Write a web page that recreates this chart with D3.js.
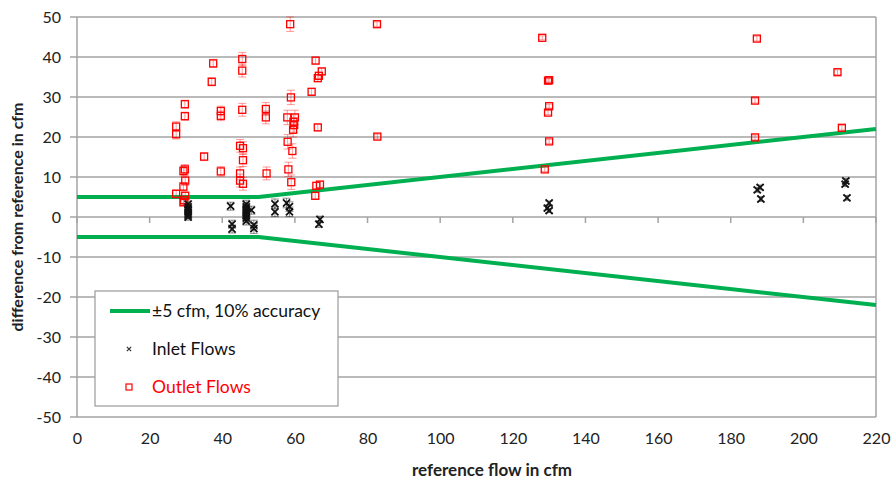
<!DOCTYPE html>
<html>
<head>
<meta charset="utf-8">
<script src="https://cdn.jsdelivr.net/npm/d3@7"></script>
<style>
  body { margin: 0; background: #fff; }
  svg { display: block; font-family: Lato, "Open Sans", sans-serif; }
</style>
</head>
<body>
<svg id="chart" width="892" height="483"></svg>
<script>
// accuracy band: +-5 cfm below 50 cfm, +-10% above
const accFlow  = [0, 50, 220];
const accUpper = [5, 5, 22];
const accLower = [-5, -5, -22];

// outlet flows (red squares)
const outletFlow = [27.3, 27.3, 27.3, 29.7, 29.7, 29.7, 29.3, 29.8, 29.3, 29.8, 29.5, 29.3,
  35.0, 37.5, 37.1, 39.6, 39.6, 39.6, 45.5, 45.5, 45.5, 44.9, 45.7, 45.7, 44.9, 44.9, 45.7,
  52.0, 52.0, 52.2, 58.7, 58.9, 57.9, 60.0, 59.6, 59.8, 59.5, 58.0, 59.3, 58.2, 59.0,
  64.6, 65.7, 67.4, 66.6, 66.3, 66.3, 65.9, 66.9, 65.6, 82.6, 82.7,
  128.1, 129.7, 130.0, 130.0, 129.7, 130.0, 128.8, 187.2, 186.7, 186.7, 209.4, 210.6];
const outletDiff = [22.6, 20.7, 5.8, 28.2, 25.2, 11.9, 11.5, 9.1, 7.6, 5.3, 4.2, 3.7,
  15.1, 38.4, 33.8, 26.5, 25.3, 11.4, 39.5, 36.6, 26.8, 17.8, 17.2, 14.2, 10.9, 9.1, 8.3,
  27.0, 24.9, 10.9, 48.2, 29.9, 24.9, 24.9, 23.8, 23.0, 21.8, 18.8, 16.5, 11.9, 8.7,
  31.3, 39.1, 36.4, 35.3, 34.7, 22.4, 7.8, 8.1, 5.3, 48.2, 20.1,
  44.8, 34.1, 34.2, 27.7, 26.1, 18.9, 11.9, 44.6, 29.1, 19.9, 36.2, 22.3];
const outletErr = [1.2, 1.2, 1.0, 1.0, 1.0, 1.2, 1.2, 1.2, 1.0, 1.0, 1.0, 1.0,
  1.0, 1.0, 1.0, 1.2, 1.2, 1.2, 1.6, 1.6, 1.6, 1.6, 1.6, 1.6, 1.6, 1.6, 1.6,
  1.6, 1.6, 1.6, 1.8, 1.8, 1.8, 1.8, 1.8, 1.8, 1.8, 1.8, 1.8, 1.8, 1.8,
  0.8, 0.8, 0.8, 0.8, 0.8, 0.8, 0.8, 0.8, 0.8, 0.6, 0.6,
  0.5, 0.5, 0.5, 0.5, 0.5, 0.5, 0.5, 0.6, 0.6, 0.6, 0.6, 0.6];

// inlet flows (black crosses)
const inletFlow = [30.6, 30.6, 30.6, 30.6, 30.6, 30.6, 30.6, 42.3, 42.7, 42.7,
  46.6, 46.6, 46.6, 46.6, 46.6, 46.6, 46.6, 46.6, 48.0, 48.7, 48.7,
  54.5, 54.5, 57.7, 58.5, 58.5, 66.9, 66.6,
  130.0, 129.5, 130.0, 188.1, 187.3, 188.3, 211.7, 211.5, 212.0];
const inletDiff = [3.2, 2.5, 2.0, 1.5, 1.0, 0.5, 0.0, 2.7, -1.8, -3.0,
  3.2, 2.5, 2.0, 1.5, 1.0, 0.3, -0.3, -1.0, 1.7, -2.0, -2.9,
  3.3, 1.3, 3.5, 2.6, 1.3, -0.6, -1.8,
  3.5, 2.2, 1.6, 7.4, 6.8, 4.5, 9.0, 8.2, 4.8];
const inletErr = [0.8, 0.8, 0.8, 0.8, 0.8, 0.8, 0.8, 1.0, 1.0, 1.0,
  1.0, 1.0, 1.0, 1.0, 1.0, 1.0, 1.0, 1.0, 1.0, 1.2, 1.2,
  1.2, 1.2, 1.2, 1.2, 1.2, 0.8, 0.8,
  0.5, 0.5, 0.5, 0.6, 0.6, 0.6, 0.6, 0.6, 0.6];

const xTicks = d3.range(0, 221, 20);
const yTicks = d3.range(-50, 51, 10);

const svg = d3.select("#chart");
const x = d3.scaleLinear().domain([0, 220]).range([77, 876]);
const y = d3.scaleLinear().domain([-50, 50]).range([417, 17]);

// gridlines (extend left as tick marks)
svg.append("g").selectAll("line")
  .data(yTicks)
  .join("line")
  .attr("x1", 70).attr("x2", x(220))
  .attr("y1", d => y(d)).attr("y2", d => y(d))
  .attr("stroke", "#a3a3a3").attr("stroke-width", 1.5);

// plot frame: left axis, right border
svg.append("line").attr("x1", x(0)).attr("x2", x(0)).attr("y1", y(50)).attr("y2", y(-50))
  .attr("stroke", "#a3a3a3").attr("stroke-width", 1.5);
svg.append("line").attr("x1", x(220)).attr("x2", x(220)).attr("y1", y(50)).attr("y2", y(-50))
  .attr("stroke", "#a3a3a3").attr("stroke-width", 1.5);

// tick marks along y=0 axis
svg.append("g").selectAll("line")
  .data(xTicks)
  .join("line")
  .attr("x1", d => x(d)).attr("x2", d => x(d))
  .attr("y1", y(0)).attr("y2", y(0) + 6)
  .attr("stroke", "#a3a3a3").attr("stroke-width", 1.5);

// y tick labels (plain hyphen like the original)
const yAxis = svg.append("g")
  .attr("transform", `translate(${x(0) - 16},0)`)
  .call(d3.axisLeft(y).tickValues(yTicks).tickSize(0).tickPadding(0).tickFormat(d => String(d)));
yAxis.select(".domain").remove();
yAxis.selectAll("text").attr("font-size", 16).attr("fill", "#222").attr("font-family", "Lato");

// x tick labels (low position)
const xAxis = svg.append("g")
  .attr("transform", `translate(0,${y(-50) + 16})`)
  .call(d3.axisBottom(x).tickValues(xTicks).tickSize(0).tickPadding(0));
xAxis.select(".domain").remove();
xAxis.selectAll("text").attr("font-size", 16).attr("fill", "#222").attr("font-family", "Lato");

// axis titles
svg.append("text")
  .attr("x", 492).attr("y", 476)
  .attr("text-anchor", "middle")
  .attr("font-size", 17).attr("font-weight", "bold").attr("fill", "#222")
  .text("reference flow in cfm");
svg.append("text")
  .attr("transform", `translate(23,${y(0)}) rotate(-90)`)
  .attr("text-anchor", "middle")
  .attr("font-size", 16).attr("font-weight", "bold").attr("fill", "#222")
  .text("difference from reference in cfm");

// accuracy lines
const line = d3.line().x(d => x(d[0])).y(d => y(d[1]));
[accUpper, accLower].forEach(vals => {
  svg.append("path")
    .datum(accFlow.map((f, i) => [f, vals[i]]))
    .attr("d", line)
    .attr("fill", "none")
    .attr("stroke", "#00b050")
    .attr("stroke-width", 4);
});

const outlet = outletFlow.map((f, i) => ({ f, d: outletDiff[i], e: outletErr[i] }));
const inlet = inletFlow.map((f, i) => ({ f, d: inletDiff[i], e: inletErr[i] }));

function errorBars(data, color) {
  const g = svg.append("g").attr("stroke", color).attr("stroke-width", 1);
  g.selectAll("line.v").data(data).join("line").attr("class", "v")
    .attr("x1", d => x(d.f)).attr("x2", d => x(d.f))
    .attr("y1", d => y(d.d + d.e)).attr("y2", d => y(d.d - d.e));
  [1, -1].forEach(s => {
    g.selectAll("line.c" + (s > 0 ? "t" : "b")).data(data).join("line")
      .attr("class", "c" + (s > 0 ? "t" : "b"))
      .attr("x1", d => x(d.f) - 4).attr("x2", d => x(d.f) + 4)
      .attr("y1", d => y(d.d + s * d.e)).attr("y2", d => y(d.d + s * d.e));
  });
}

errorBars(outlet, "rgba(255,0,0,0.4)");
errorBars(inlet, "rgba(0,0,0,0.45)");

// outlet markers
svg.append("g").selectAll("rect")
  .data(outlet)
  .join("rect")
  .attr("x", d => x(d.f) - 3.5).attr("y", d => y(d.d) - 3.5)
  .attr("width", 7).attr("height", 7)
  .attr("fill", "none").attr("stroke", "#ff0000").attr("stroke-width", 1.3);

// inlet markers
const cross = d3.symbol().type(d3.symbolX).size(34);
svg.append("g").selectAll("path")
  .data(inlet)
  .join("path")
  .attr("transform", d => `translate(${x(d.f)},${y(d.d)})`)
  .attr("d", cross)
  .attr("fill", "none").attr("stroke", "#111").attr("stroke-width", 1.8);

// legend
const lg = svg.append("g");
lg.append("rect")
  .attr("x", 95).attr("y", 291).attr("width", 243).attr("height", 115)
  .attr("fill", "#fff").attr("stroke", "#9a9a9a").attr("stroke-width", 1.2);
lg.append("line")
  .attr("x1", 110).attr("x2", 150).attr("y1", 311).attr("y2", 311)
  .attr("stroke", "#00b050").attr("stroke-width", 4);
lg.append("text").attr("x", 152).attr("y", 317)
  .attr("font-size", 17.5).attr("fill", "#111")
  .text("±5 cfm, 10% accuracy");
lg.append("path")
  .attr("transform", "translate(129,349)")
  .attr("d", d3.symbol().type(d3.symbolX).size(14))
  .attr("fill", "none").attr("stroke", "#333").attr("stroke-width", 1.2);
lg.append("text").attr("x", 152).attr("y", 355)
  .attr("font-size", 17.5).attr("fill", "#111")
  .text("Inlet Flows");
lg.append("rect")
  .attr("x", 126).attr("y", 384).attr("width", 6).attr("height", 6)
  .attr("fill", "none").attr("stroke", "#ff0000").attr("stroke-width", 1.2);
lg.append("text").attr("x", 152).attr("y", 393)
  .attr("font-size", 17.5).attr("fill", "#ff0000")
  .text("Outlet Flows");
</script>
</body>
</html>
